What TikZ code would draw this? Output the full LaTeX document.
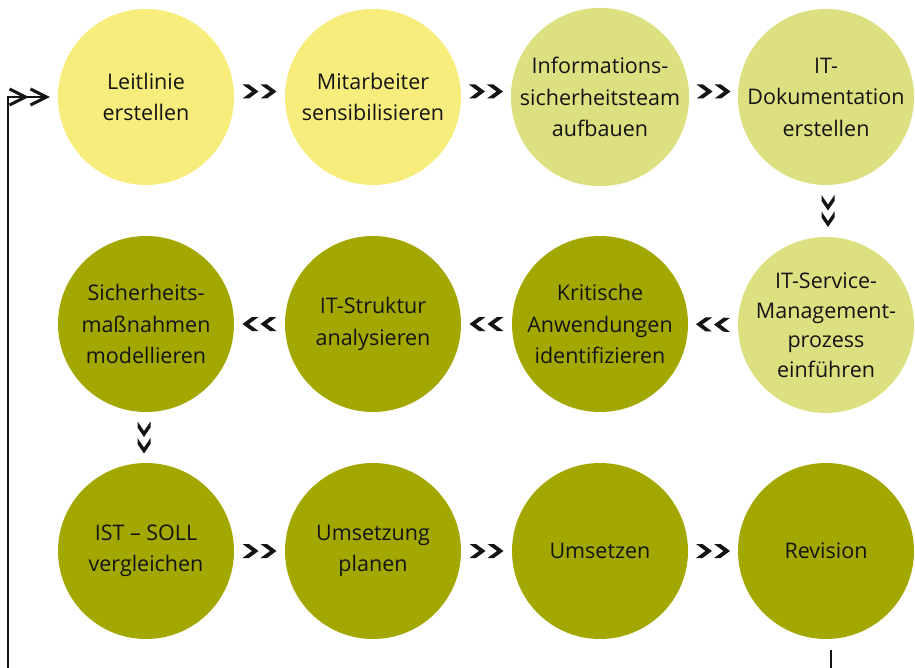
\documentclass[tikz,border=0pt]{standalone}
\usepackage{fontspec}
\setmainfont{Open Sans}
\usetikzlibrary{arrows.meta}
\definecolor{cyellow}{RGB}{247,237,125}
\definecolor{clight}{RGB}{221,224,128}
\definecolor{colive}{RGB}{163,168,0}
\definecolor{ink}{RGB}{20,20,20}
\tikzset{
  stage/.style={circle, minimum size=176pt, inner sep=0pt, align=center,
    text=ink, font=\fontsize{21.5}{31.5}\selectfont},
  yel/.style={stage, fill=cyellow},
  lgt/.style={stage, fill=clight},
  olv/.style={stage, fill=colive},
  hchev/.pic={
    \fill[ink] (-17,-7) -- (-10.5,-7) -- (-1,0) -- (-10.5,7) -- (-17,7) -- (-7.5,0) -- cycle;
    \fill[ink] (1,-7) -- (7.5,-7) -- (17,0) -- (7.5,7) -- (1,7) -- (10.5,0) -- cycle;
  },
  vchev/.pic={
    \fill[ink] (-16,-6.5) -- (-10,-6.5) -- (-0.5,0) -- (-10,6.5) -- (-16,6.5) -- (-6.5,0) -- cycle;
    \fill[ink] (0.5,-6.5) -- (6.5,-6.5) -- (16,0) -- (6.5,6.5) -- (0.5,6.5) -- (10,0) -- cycle;
  },
  flow/.style={sloped, allow upside down, pos=0.5},
  loopline/.style={draw=ink, line width=2.2pt},
  looptip/.style={-{Straight Barb[length=16pt,width=16pt,line width=3pt] Straight Barb[length=16pt,width=16pt,line width=3pt]}, shorten >=8pt},
}
\begin{document}
\begin{tikzpicture}[x=1pt, y=-1pt]
\useasboundingbox (0,0) rectangle (915,668);
\clip (0,0) rectangle (915,668);

% row 1
\node[yel] (c1) at (146,97) {Leitlinie\\erstellen};
\node[yel] (c2) at (373,97) {Mitarbeiter\\sensibilisieren};
\node[lgt] (c3) at (600,97) {Informations-\\sicherheitsteam\\aufbauen};
\node[lgt] (c4) at (826,97) {IT-\\Dokumentation\\erstellen};
% row 2
\node[lgt, font=\fontsize{21.5}{29.5}\selectfont] (c5) at (826,325) {IT-Service-\\Management-\\prozess\\einführen};
\node[olv] (c6) at (600,324) {Kritische\\Anwendungen\\identifizieren};
\node[olv] (c7) at (373,324) {IT-Struktur\\analysieren};
\node[olv] (c8) at (146,324) {Sicherheits-\\maßnahmen\\modellieren};
% row 3
\node[olv] (c9) at (146,551) {IST – SOLL\\vergleichen};
\node[olv] (c10) at (373,551) {Umsetzung\\planen};
\node[olv] (c11) at (600,551) {Umsetzen};
\node[olv] (c12) at (826,551) {Revision};

% chevron connectors
\path ([yshift=5.5pt]c1.east) -- pic[flow]{hchev} ([yshift=5.5pt]c2.west);
\path ([yshift=5.5pt]c2.east) -- pic[flow]{hchev} ([yshift=5.5pt]c3.west);
\path ([yshift=5.5pt]c3.east) -- pic[flow]{hchev} ([yshift=5.5pt]c4.west);
\path ([xshift=2pt]c4.south) -- pic[flow]{vchev} ([xshift=2pt]c5.north);
\path (c5.west) -- pic[flow]{hchev} (c6.east);
\path (c6.west) -- pic[flow]{hchev} (c7.east);
\path (c7.west) -- pic[flow]{hchev} (c8.east);
\path ([xshift=-2pt]c8.south) -- pic[flow]{vchev} ([xshift=-2pt]c9.north);
\path (c9.east) -- pic[flow]{hchev} (c10.west);
\path (c10.east) -- pic[flow]{hchev} (c11.west);
\path (c11.east) -- pic[flow]{hchev} (c12.west);

% return loop
\coordinate (r0) at (831,650);
\coordinate (r1) at (831,700);
\coordinate (l1) at (8,700);
\draw[loopline, looptip] (r0) -- (r1) -- (l1) |- (c1.west);
\end{tikzpicture}
\end{document}
